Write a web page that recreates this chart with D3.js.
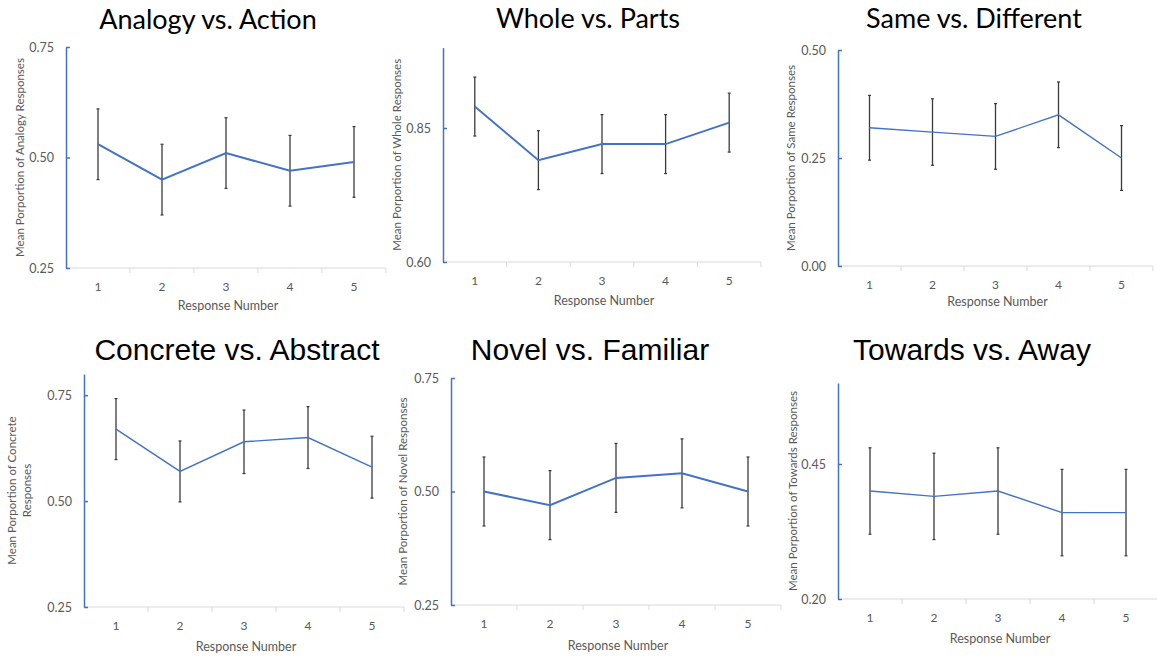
<!DOCTYPE html>
<html>
<head>
<meta charset="utf-8">
<script src="https://cdn.jsdelivr.net/npm/d3@7"></script>
<style>
  body { margin: 0; background: #ffffff; }
  svg { display: block; }
</style>
</head>
<body>
<div id="chart"></div>
<script>
// response numbers on the x axis
const responseNumbers = [1, 2, 3, 4, 5];

// panel titles and y axis names
const titles = ["Analogy vs. Action", "Whole vs. Parts", "Same vs. Different",
                "Concrete vs. Abstract", "Novel vs. Familiar", "Towards vs. Away"];
const yTitles = [
    ["Mean Porportion of Analogy Responses"],
    ["Mean Porportion of Whole Responses"],
    ["Mean Porportion of Same Responses"],
    ["Mean Porportion of Concrete", "Responses"],
    ["Mean Porportion of Novel Responses"],
    ["Mean Porportion of Towards Responses"]
];

// means per response number
const analogyMeans  = [0.53, 0.45, 0.51, 0.47, 0.49];
const wholeMeans    = [0.89, 0.79, 0.82, 0.82, 0.86];
const sameMeans     = [0.32, 0.31, 0.30, 0.35, 0.25];
const concreteMeans = [0.67, 0.57, 0.64, 0.65, 0.58];
const novelMeans    = [0.50, 0.47, 0.53, 0.54, 0.50];
const towardsMeans  = [0.40, 0.39, 0.40, 0.36, 0.36];

// error bar half widths
const analogyErr  = [0.08, 0.08, 0.08, 0.08, 0.08];
const wholeErr    = [0.055, 0.055, 0.055, 0.055, 0.055];
const sameErr     = [0.075, 0.077, 0.076, 0.076, 0.075];
const concreteErr = [0.072, 0.072, 0.075, 0.073, 0.073];
const novelErr    = [0.076, 0.076, 0.076, 0.076, 0.076];
const towardsErr  = [0.08, 0.08, 0.08, 0.08, 0.08];

// y domains and labelled ticks
const yDomains = [[0.25, 0.75], [0.60, 1.00], [0.00, 0.50], [0.25, 0.80], [0.25, 0.75], [0.20, 0.60]];
const yTicks   = [[0.25, 0.50, 0.75], [0.60, 0.85], [0.00, 0.25, 0.50], [0.25, 0.50, 0.75], [0.25, 0.50, 0.75], [0.20, 0.45]];

const means = [analogyMeans, wholeMeans, sameMeans, concreteMeans, novelMeans, towardsMeans];
const errs  = [analogyErr, wholeErr, sameErr, concreteErr, novelErr, towardsErr];

// layout of each panel (pixels)
const layout = [
    {x0: 66,  x1: 386,  top: 47,  bottom: 268, titleX: 208, titleY: 29,  titleFont: "Lato", yTitleX: 20,  xTitleY: 310, lineW: 2.0},
    {x0: 443, x1: 761,  top: 47.6,bottom: 262, titleX: 588, titleY: 28,  titleFont: "Lato", yTitleX: 397, xTitleY: 305, lineW: 2.0},
    {x0: 838, x1: 1153, top: 50,  bottom: 266, titleX: 974, titleY: 28,  titleFont: "Lato", yTitleX: 791, xTitleY: 306, lineW: 1.4},
    {x0: 84,  x1: 404,  top: 374, bottom: 607, titleX: 237, titleY: 360, titleFont: "Liberation Sans", yTitleX: 18, xTitleY: 651, lineW: 1.4},
    {x0: 451, x1: 781,  top: 378, bottom: 605, titleX: 590, titleY: 360, titleFont: "Liberation Sans", yTitleX: 403, xTitleY: 650, lineW: 2.0},
    {x0: 838, x1: 1158, top: 383, bottom: 599, titleX: 972, titleY: 360, titleFont: "Liberation Sans", yTitleX: 793, xTitleY: 643, lineW: 1.4}
];

const width = 1157, height = 658;
const blue = "#4472c4", grey = "#595959";

const svg = d3.select("#chart").append("svg")
    .attr("width", width)
    .attr("height", height);

layout.forEach(function(p, i) {
    const g = svg.append("g");
    const x = d3.scaleBand().domain(responseNumbers).range([p.x0, p.x1]);
    const y = d3.scaleLinear().domain(yDomains[i]).range([p.bottom, p.top]);

    const pts = responseNumbers.map(function(r, j) {
        return {r: r, m: means[i][j], e: errs[i][j]};
    });

    // title
    g.append("text")
        .attr("x", p.titleX).attr("y", p.titleY)
        .attr("text-anchor", "middle")
        .style("font-family", p.titleFont)
        .style("font-size", i < 3 ? "27px" : "30px")
        .style("fill", "#000")
        .text(titles[i]);

    // x axis line and ticks between categories
    g.append("line")
        .attr("x1", p.x0).attr("x2", p.x1)
        .attr("y1", p.bottom).attr("y2", p.bottom)
        .style("stroke", "#d9d9d9").style("stroke-width", 1);
    g.selectAll(".xtick").data(responseNumbers.slice(1).concat(["end"]))
        .enter().append("line")
        .attr("x1", function(d) { return d === "end" ? p.x1 : x(d); })
        .attr("x2", function(d) { return d === "end" ? p.x1 : x(d); })
        .attr("y1", p.bottom).attr("y2", p.bottom + 5)
        .style("stroke", "#d9d9d9");
    g.selectAll(".xlab").data(responseNumbers)
        .enter().append("text")
        .attr("x", function(d) { return x(d) + x.bandwidth() / 2; })
        .attr("y", p.bottom + 23)
        .attr("text-anchor", "middle")
        .style("font-family", "Lato").style("font-size", "12px").style("fill", grey)
        .text(function(d) { return d; });
    g.append("text")
        .attr("x", (p.x0 + p.x1) / 2 + 2).attr("y", p.xTitleY)
        .attr("text-anchor", "middle")
        .style("font-family", "Lato").style("font-size", "12.5px").style("fill", grey)
        .text("Response Number");

    // y axis
    const yAxis = g.append("g")
        .attr("transform", "translate(" + p.x0 + ",0)")
        .call(d3.axisLeft(y).tickValues(yTicks[i]).tickSize(-4).tickSizeOuter(0)
            .tickFormat(d3.format(".2f")));
    yAxis.select(".domain").style("stroke", blue).style("stroke-width", 1.5);
    yAxis.selectAll(".tick line").style("stroke", blue).style("stroke-width", 1.5);
    yAxis.selectAll(".tick text")
        .attr("x", -12)
        .style("font-family", "Lato").style("font-size", "12.5px").style("fill", grey);

    // y axis title
    const cy = (p.top + p.bottom) / 2;
    const yt = g.append("text")
        .attr("transform", "translate(" + p.yTitleX + "," + cy + ") rotate(-90)")
        .attr("text-anchor", "middle")
        .style("font-family", "Lato").style("font-size", "11.5px").style("fill", grey);
    yTitles[i].forEach(function(line, k) {
        yt.append("tspan")
            .attr("x", 0)
            .attr("dy", k === 0 ? (yTitles[i].length > 1 ? "-0.2em" : "0.35em") : "1.3em")
            .text(line);
    });

    // error bars
    const cx = function(d) { return x(d.r) + x.bandwidth() / 2; };
    g.selectAll(".err").data(pts).enter().append("line")
        .attr("x1", cx).attr("x2", cx)
        .attr("y1", function(d) { return y(d.m - d.e); })
        .attr("y2", function(d) { return y(d.m + d.e); })
        .style("stroke", "#3a3a3a").style("stroke-width", 1.3);
    ["lo", "hi"].forEach(function(side) {
        g.selectAll(".cap-" + side).data(pts).enter().append("line")
            .attr("x1", function(d) { return cx(d) - 1.5; })
            .attr("x2", function(d) { return cx(d) + 1.5; })
            .attr("y1", function(d) { return y(side === "lo" ? d.m - d.e : d.m + d.e); })
            .attr("y2", function(d) { return y(side === "lo" ? d.m - d.e : d.m + d.e); })
            .style("stroke", "#3a3a3a").style("stroke-width", 1.2);
    });

    // mean line
    g.append("path")
        .datum(pts)
        .attr("d", d3.line().x(cx).y(function(d) { return y(d.m); }))
        .style("fill", "none")
        .style("stroke", blue)
        .style("stroke-width", p.lineW);
});
</script>
</body>
</html>
